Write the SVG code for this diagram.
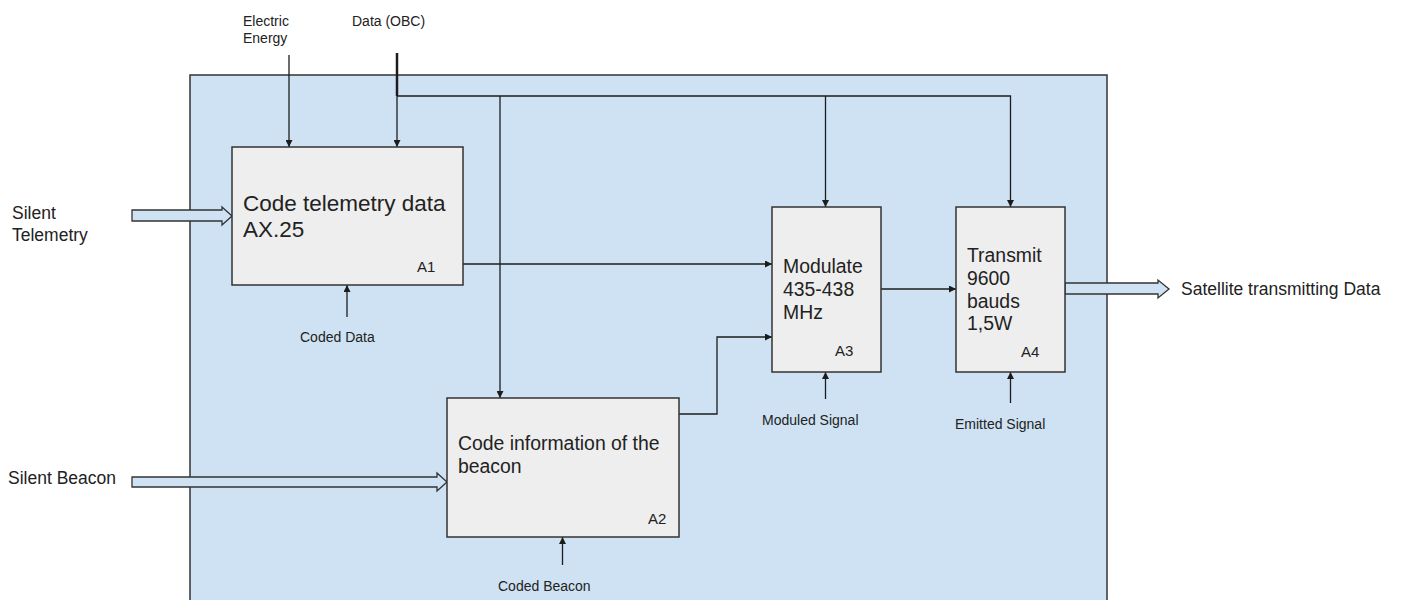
<svg xmlns="http://www.w3.org/2000/svg" width="1401" height="600" viewBox="0 0 1401 600">
<defs>
<marker id="ah" viewBox="0 0 10 10" refX="10" refY="5" markerWidth="7" markerHeight="7" markerUnits="userSpaceOnUse" orient="auto">
<path d="M0,0 L10,5 L0,10 z" fill="#1c1c1c"/>
</marker>
</defs>
<style>
text{font-family:"Liberation Sans",Arial,sans-serif;fill:#222}
.box{fill:#eeeeee;stroke:#333;stroke-width:1.5}
.ln{fill:none;stroke:#1c1c1c;stroke-width:1.3}
.big{fill:#cfe2f3;stroke:#333;stroke-width:1.5}
.t1{font-size:22.5px}
.t2{font-size:19.4px}
.lab{font-size:14px}
.ext{font-size:17.5px}
.id{font-size:15px}
</style>
<rect width="1401" height="600" fill="#ffffff"/>
<rect id="container" class="big" x="190" y="75" width="917" height="540"/>

<g id="connectors">
<line class="ln" x1="289" y1="55" x2="289" y2="147" marker-end="url(#ah)"/>
<line x1="397" y1="53" x2="397" y2="96" stroke="#1c1c1c" stroke-width="2.5"/>
<line class="ln" x1="397" y1="96" x2="397" y2="147" marker-end="url(#ah)"/>
<polyline class="ln" points="397,96 1010.5,96 1010.5,207" marker-end="url(#ah)"/>
<line class="ln" x1="825.5" y1="96" x2="825.5" y2="207" marker-end="url(#ah)"/>
<line class="ln" x1="500" y1="96" x2="500" y2="398" marker-end="url(#ah)"/>
<line class="ln" x1="463" y1="264" x2="772" y2="264" marker-end="url(#ah)"/>
<polyline class="ln" points="679,414 717,414 717,337 772,337" marker-end="url(#ah)"/>
<line class="ln" x1="881" y1="289" x2="956" y2="289" marker-end="url(#ah)"/>
<line class="ln" x1="347" y1="317" x2="347" y2="285" marker-end="url(#ah)"/>
<line class="ln" x1="562.5" y1="565" x2="562.5" y2="537" marker-end="url(#ah)"/>
<line class="ln" x1="825.5" y1="399" x2="825.5" y2="372" marker-end="url(#ah)"/>
<line class="ln" x1="1010.5" y1="403" x2="1010.5" y2="372" marker-end="url(#ah)"/>
<path d="M132,210 L222,210 L222,207 L232,216 L222,225 L222,221 L132,221 Z" fill="#cfe2f3" stroke="#333" stroke-width="1.3"/>
<path d="M132,477 L437,477 L437,473 L447,482 L437,491 L437,487 L132,487 Z" fill="#cfe2f3" stroke="#333" stroke-width="1.3"/>
<path d="M1065,283 L1158,283 L1158,280 L1169,289 L1158,298 L1158,294 L1065,294 Z" fill="#cfe2f3" stroke="#333" stroke-width="1.3"/>
</g>

<g id="A1">
<rect class="box" x="232" y="147" width="231" height="138"/>
<text class="t1" x="243" y="211">Code telemetry data</text>
<text class="t1" x="243" y="237">AX.25</text>
<text class="id" x="417" y="272">A1</text>
</g>
<g id="A2">
<rect class="box" x="447" y="398" width="232" height="139"/>
<text class="t2" x="458" y="450">Code information of the</text>
<text class="t2" x="458" y="473">beacon</text>
<text class="id" x="648" y="524">A2</text>
</g>
<g id="A3">
<rect class="box" x="772" y="207" width="109" height="165"/>
<text class="t2" x="783" y="273">Modulate</text>
<text class="t2" x="783" y="296">435-438</text>
<text class="t2" x="783" y="319">MHz</text>
<text class="id" x="835" y="356">A3</text>
</g>
<g id="A4">
<rect class="box" x="956" y="207" width="109" height="165"/>
<text class="t2" x="967" y="262">Transmit</text>
<text class="t2" x="967" y="285">9600</text>
<text class="t2" x="967" y="308">bauds</text>
<text class="t2" x="967" y="330">1,5W</text>
<text class="id" x="1021" y="357">A4</text>
</g>

<g id="labels">
<text class="lab" x="243" y="26">Electric</text>
<text class="lab" x="243" y="43">Energy</text>
<text class="lab" x="352" y="26">Data (OBC)</text>
<text class="ext" x="12" y="219">Silent</text>
<text class="ext" x="12" y="241">Telemetry</text>
<text class="ext" x="8" y="484">Silent Beacon</text>
<text class="ext" x="1181" y="295">Satellite transmitting Data</text>
<text class="lab" x="300" y="342">Coded Data</text>
<text class="lab" x="498" y="591">Coded Beacon</text>
<text class="lab" x="762" y="425">Moduled Signal</text>
<text class="lab" x="955" y="429">Emitted Signal</text>
</g>
</svg>
